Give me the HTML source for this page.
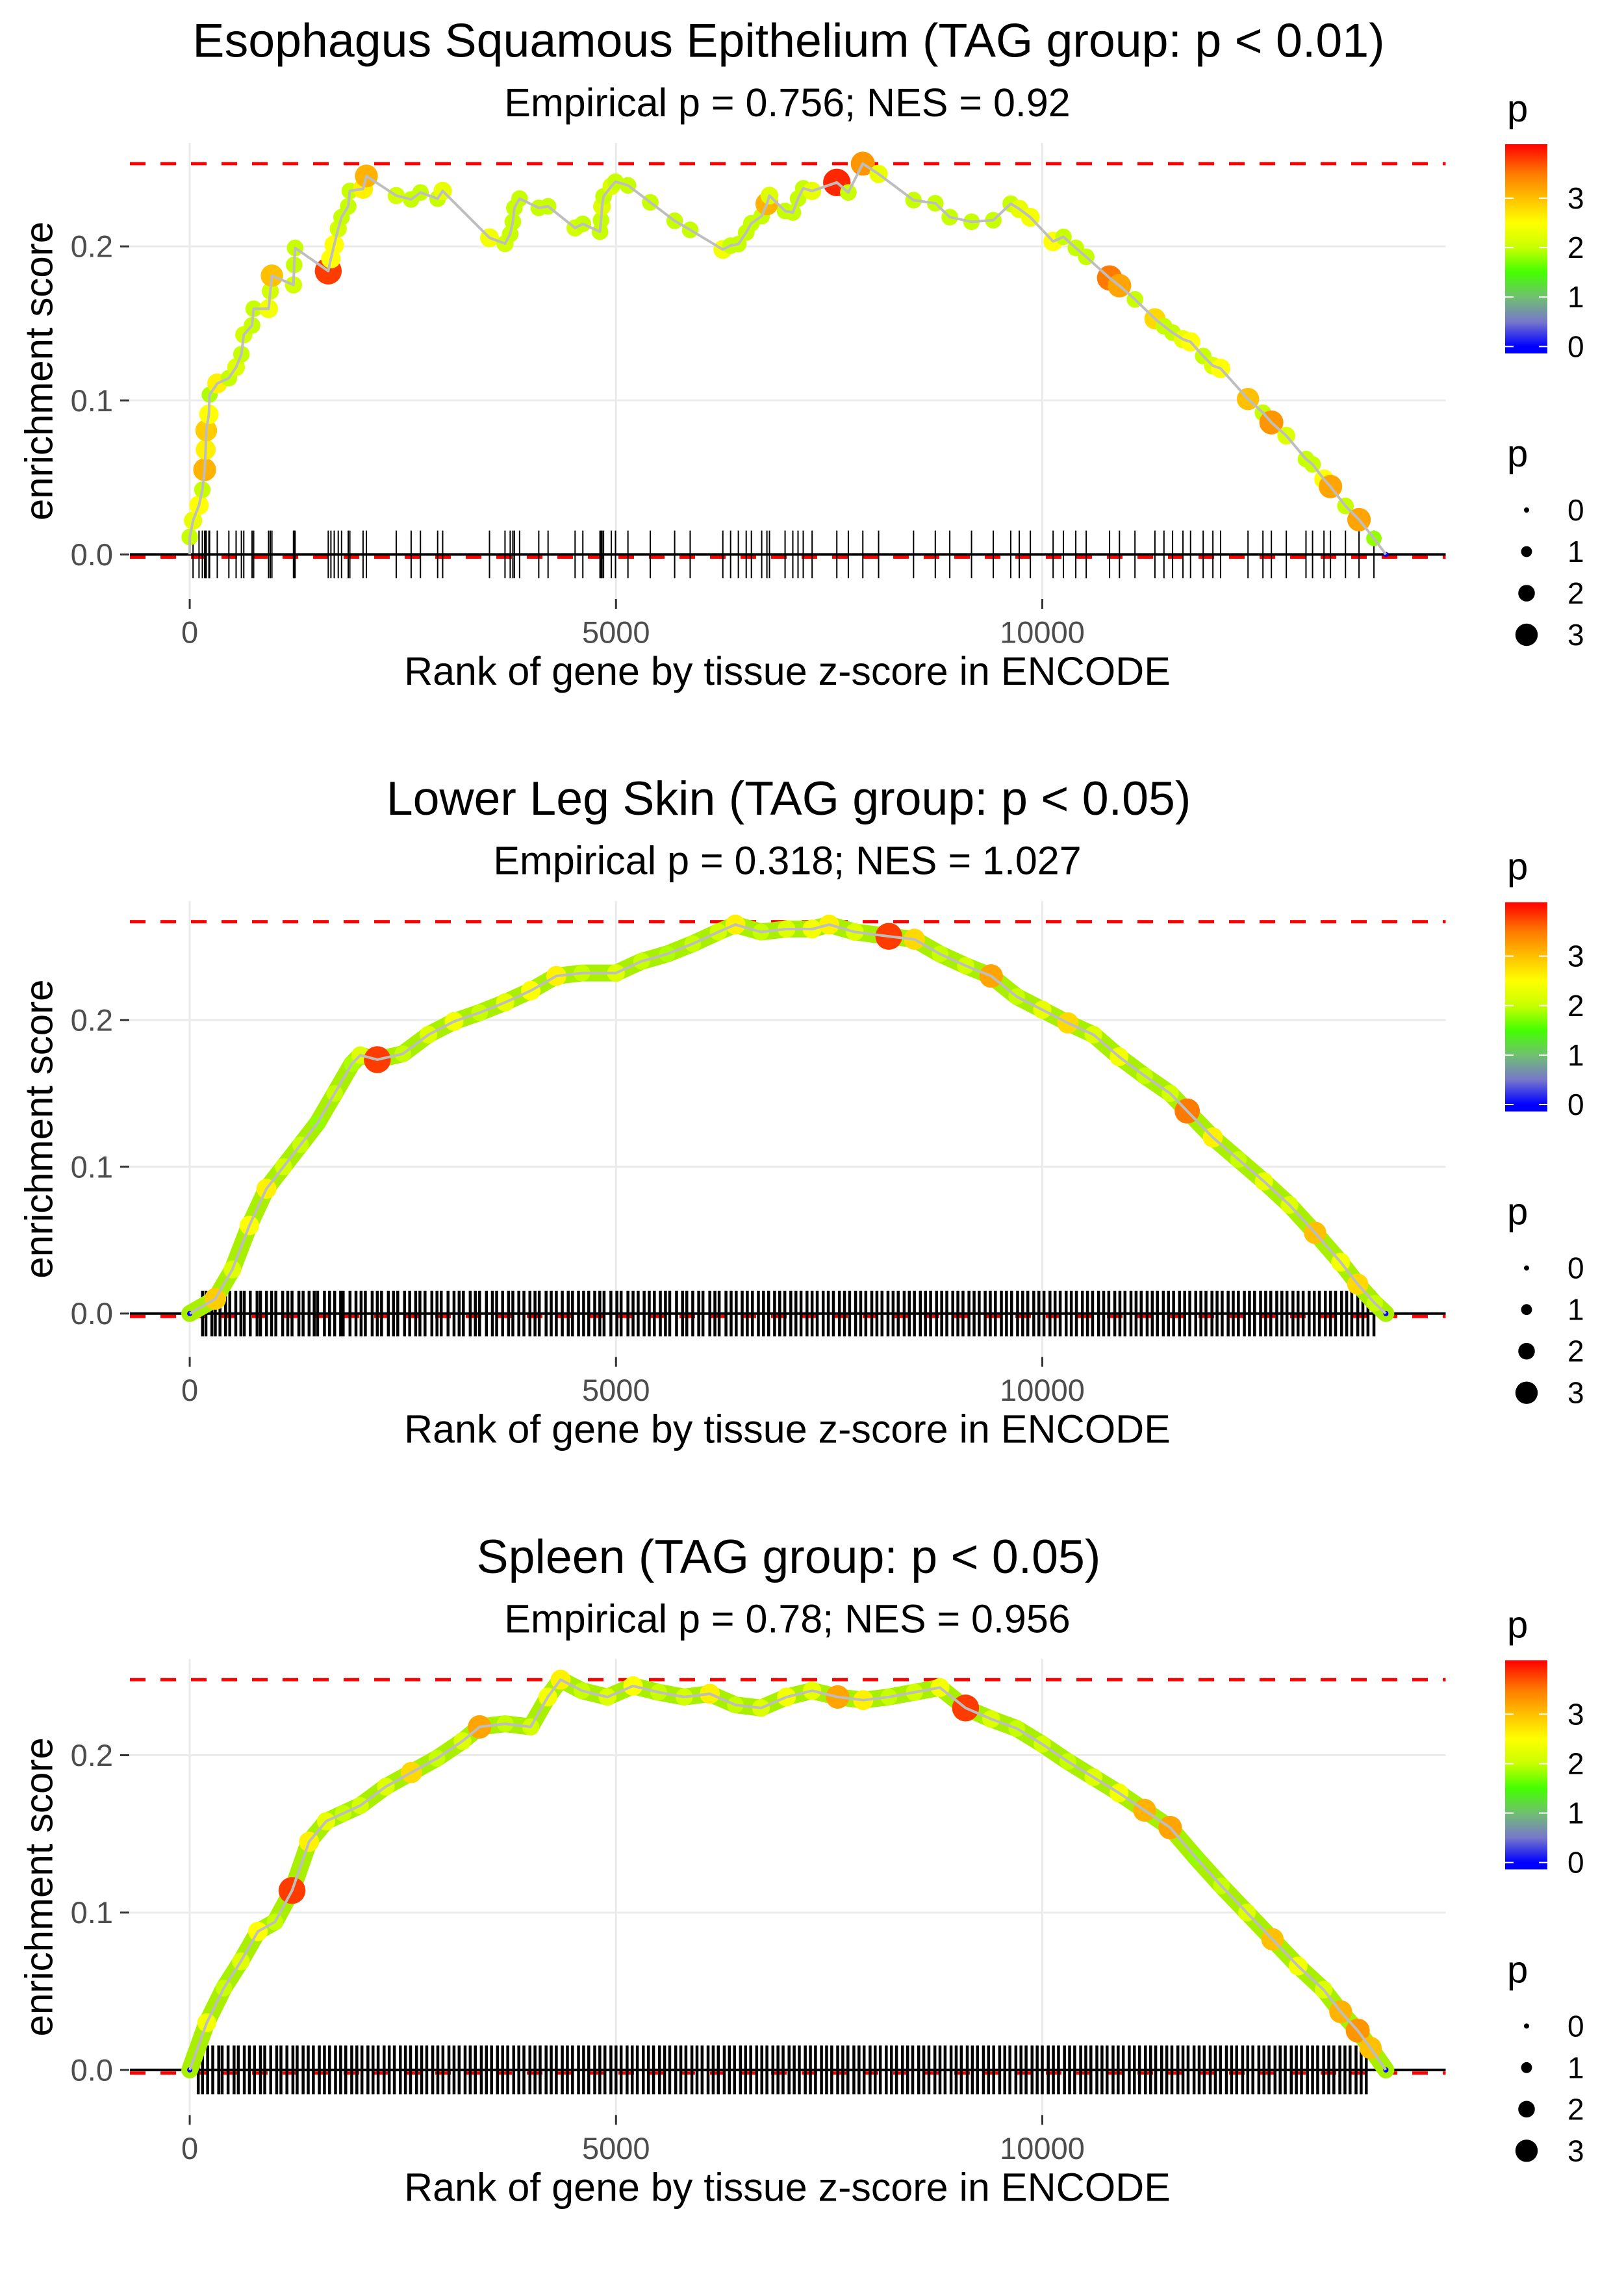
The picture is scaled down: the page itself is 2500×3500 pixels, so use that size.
<!DOCTYPE html>
<html><head><meta charset="utf-8">
<style>
html,body{margin:0;padding:0;background:#fff;}
svg{display:block;font-family:"Liberation Sans",Arial,sans-serif;}
</style></head>
<body>
<svg id="chart" width="2500" height="3500" viewBox="0 0 2500 3500" xmlns="http://www.w3.org/2000/svg">
<defs>
<linearGradient id="pgrad" x1="0" y1="1" x2="0" y2="0"></linearGradient>
</defs>
</svg>
<script>
// ---------- data ----------
const panelTitles = ["Esophagus Squamous Epithelium (TAG group: p < 0.01)", "Lower Leg Skin (TAG group: p < 0.05)", "Spleen (TAG group: p < 0.05)"];
const panelSubtitles = ["Empirical p = 0.756; NES = 0.92", "Empirical p = 0.318; NES = 1.027", "Empirical p = 0.78; NES = 0.956"];
const xTicks = [0, 5000, 10000];
const xTickLabels = ["0", "5000", "10000"];
const yTicks = [0, 0.1, 0.2];
const yTickLabels = ["0.0", "0.1", "0.2"];
const xExtent = [0, 14030];
const rugHalf = 0.0155;
const legendColorTicks = [0, 1, 2, 3];
const legendSizeValues = [0, 1, 2, 3];
const colorStops = [0, 0.5, 1, 1.5, 2, 2.5, 3, 3.5, 4.09];
const colorStopColors = ["#0000ff", "#7777cc", "#70c070", "#44ff00", "#c8ff00", "#ffff00", "#ffc000", "#ff7a00", "#ff0000"];
const colorRange = [-0.14, 4.09];

const p1Ranks = [0,39,109,148,175,187,194,225,233,323,459,544,606,634,731,750,925,945,964,1217,1225,1236,1625,1656,1695,1742,1781,1859,1878,2033,2072,2422,2597,2706,2908,2967,3516,3698,3759,3790,3808,3869,4094,4203,4520,4611,4812,4824,4836,4854,4945,4994,5140,5402,5688,5870,6253,6344,6435,6527,6588,6709,6770,6800,6983,7074,7135,7196,7300,7590,7725,7895,8080,8490,8745,8915,9170,9425,9630,9730,9860,10127,10248,10393,10515,10789,10905,11087,11321,11427,11528,11650,11739,11887,12001,12091,12413,12588,12687,12862,13093,13170,13304,13380,13556,13715,13890,14030];
const p1ES = [.0113,.022,.032,.042,.055,.068,.0805,.091,.1037,.111,.1145,.1216,.130,.1426,.1487,.1595,.1595,.171,.181,.175,.188,.199,.184,.192,.201,.2115,.219,.226,.236,.2374,.2457,.233,.2305,.235,.231,.236,.2056,.2018,.208,.216,.225,.231,.225,.226,.212,.2146,.2095,.217,.226,.2325,.239,.242,.2396,.2286,.2166,.2107,.198,.2005,.2015,.209,.215,.2197,.2276,.233,.223,.222,.231,.2377,.236,.2415,.235,.2537,.247,.230,.228,.219,.216,.217,.2277,.2243,.2189,.2032,.2062,.1990,.1932,.1795,.1745,.1656,.1530,.1482,.1440,.1397,.1380,.1288,.1225,.1208,.1009,.0920,.0857,.0771,.0619,.0585,.0488,.0441,.0315,.0226,.0104,0];
const p1P = [2.0,2.3,2.5,2.0,3.1,2.6,2.9,2.5,1.9,2.6,2.0,2.2,2.0,2.1,2.0,2.0,2.4,2.1,3.0,2.1,2.0,2.0,3.8,2.5,2.5,2.1,2.0,2.0,2.0,2.6,3.1,2.1,2.0,2.0,2.0,2.3,2.4,2.1,2.0,2.0,2.0,2.0,2.0,2.0,2.1,2.0,2.0,2.0,2.2,2.0,2.2,2.0,2.0,2.0,2.0,2.0,2.4,2.0,2.0,2.0,2.0,2.0,3.1,2.2,2.0,2.0,2.0,2.0,2.3,3.9,2.0,3.3,2.3,2.0,2.0,2.0,2.0,2.0,2.0,2.3,2.4,2.5,2.0,2.0,2.0,3.5,3.2,2.0,2.8,2.0,2.0,2.3,2.5,2.0,2.2,2.5,3.0,2.0,3.3,2.2,2.0,2.0,2.5,3.2,2.0,3.2,1.8,0];
const p1Rug = p1Ranks.slice(1, -1);
const p1MaxES = 0.2537;
const p1MinES = -0.0018;

const p2Ranks = [0,300,500,700,900,1100,1300,1500,1700,1900,2000,2200,2500,2800,3100,3400,3700,4000,4300,4600,5000,5300,5600,5900,6200,6400,6700,7000,7300,7500,7800,8200,8500,8800,9100,9400,9700,10000,10300,10600,10900,11200,11500,11700,12000,12300,12600,12900,13200,13500,13700,13900,14030];
const p2ES = [0,.01,.03,.06,.085,.10,.115,.13,.15,.17,.176,.173,.177,.19,.199,.205,.212,.22,.23,.232,.232,.24,.245,.252,.26,.265,.26,.262,.262,.265,.26,.257,.255,.245,.237,.23,.216,.207,.198,.19,.175,.162,.15,.138,.12,.105,.09,.074,.055,.035,.02,.007,0];
const p2P = [0,2.9,2.2,2.5,2.6,2.1,2.0,1.8,2.0,1.9,2.2,3.8,2.0,2.2,2.4,2.0,2.3,2.5,2.6,2.0,2.2,2.0,1.9,2.0,2.1,2.6,2.0,2.2,2.4,2.6,2.2,3.8,2.8,2.0,2.1,3.2,2.0,2.3,2.8,2.2,2.4,2.0,2.1,3.5,2.6,2.0,2.3,2.2,3.0,2.4,2.8,2.0,0];
const p2Rug = [150,190,260,300,355,420,470,540,600,640,710,790,830,900,960,1010,1090,1150,1200,1280,1330,1400,1460,1500,1580,1640,1700,1770,1800,1880,1950,2010,2060,2140,2200,2250,2330,2390,2440,2520,2580,2650,2700,2760,2840,2900,2950,3030,3100,3160,3210,3290,3350,3400,3480,3550,3600,3670,3740,3790,3860,3920,3990,4050,4100,4180,4240,4300,4370,4440,4490,4560,4620,4680,4750,4810,4860,4940,5010,5060,5140,5200,5260,5330,5390,5450,5520,5580,5630,5710,5780,5830,5900,5970,6020,6100,6160,6210,6290,6350,6410,6480,6540,6600,6670,6730,6790,6860,6920,6980,7050,7110,7170,7240,7300,7360,7430,7490,7550,7620,7680,7740,7810,7870,7930,8000,8060,8120,8190,8250,8310,8380,8440,8500,8570,8630,8690,8760,8820,8880,8950,9010,9070,9140,9200,9260,9330,9390,9450,9520,9580,9640,9710,9770,9830,9900,9960,10020,10090,10150,10210,10280,10340,10400,10470,10530,10590,10660,10720,10780,10850,10910,10970,11040,11100,11160,11230,11290,11350,11420,11480,11540,11610,11670,11730,11800,11860,11920,11990,12050,12110,12180,12240,12300,12370,12430,12490,12560,12620,12680,12750,12810,12870,12940,13000,13060,13130,13190,13250,13320,13380,13440,13510,13570,13630,13700,13760,13820,13890];
const p2MaxES = 0.267;
const p2MinES = -0.002;

const p3Ranks = [0,200,400,600,800,1000,1200,1400,1600,1800,2000,2300,2600,2900,3200,3400,3700,4000,4200,4350,4600,4900,5200,5500,5800,6100,6400,6700,7000,7300,7600,7900,8200,8500,8800,9100,9400,9700,10000,10300,10600,10900,11200,11500,11800,12100,12400,12700,13000,13300,13500,13700,13850,14030];
const p3ES = [0,.03,.052,.069,.088,.094,.114,.145,.158,.163,.168,.18,.189,.198,.209,.218,.22,.218,.237,.248,.241,.237,.244,.24,.237,.239,.232,.23,.237,.241,.237,.235,.237,.24,.243,.23,.223,.217,.207,.196,.186,.176,.165,.154,.135,.117,.10,.083,.066,.051,.037,.025,.014,0];
const p3P = [0,2.4,2.0,2.2,2.5,2.0,3.8,2.6,2.3,2.0,2.1,2.2,2.8,2.0,2.2,3.2,2.0,2.1,2.4,2.6,2.0,2.2,2.5,2.0,2.1,2.6,2.0,2.2,2.4,2.3,3.2,2.6,2.0,2.1,2.4,3.8,2.2,2.0,2.1,2.0,2.2,2.4,3.1,3.2,1.8,2.0,2.2,3.0,2.4,2.2,3.1,3.3,3.0,0];
const p3Rug = [100,150,210,270,340,380,450,520,570,640,700,760,830,880,950,1020,1070,1140,1210,1260,1330,1390,1450,1520,1580,1640,1710,1770,1830,1900,1960,2020,2090,2150,2210,2280,2340,2400,2470,2530,2590,2660,2720,2780,2850,2910,2970,3040,3100,3160,3230,3290,3350,3420,3480,3540,3610,3670,3730,3800,3860,3920,3990,4050,4110,4180,4240,4300,4370,4430,4490,4560,4620,4680,4750,4810,4870,4940,5000,5060,5130,5190,5250,5320,5380,5440,5510,5570,5630,5700,5760,5820,5890,5950,6010,6080,6140,6200,6270,6330,6390,6460,6520,6580,6650,6710,6770,6840,6900,6960,7030,7090,7150,7220,7280,7340,7410,7470,7530,7600,7660,7720,7790,7850,7910,7980,8040,8100,8170,8230,8290,8360,8420,8480,8550,8610,8670,8740,8800,8860,8930,8990,9050,9120,9180,9240,9310,9370,9430,9500,9560,9620,9690,9750,9810,9880,9940,10000,10070,10130,10190,10260,10320,10380,10450,10510,10570,10640,10700,10760,10830,10890,10950,11020,11080,11140,11210,11270,11330,11400,11460,11520,11590,11650,11710,11780,11840,11900,11970,12030,12090,12160,12220,12280,12350,12410,12470,12540,12600,12660,12730,12790,12850,12920,12980,13040,13110,13170,13230,13300,13360,13420,13490,13550,13610,13680,13740,13800];
const p3MaxES = 0.248;
const p3MinES = -0.002;

// ---------- rendering ----------
const NS = "http://www.w3.org/2000/svg";
const svg = document.getElementById("chart");
function mk(tag, attrs, parent) {
  const e = document.createElementNS(NS, tag);
  for (const k in attrs) e.setAttribute(k, attrs[k]);
  (parent || svg).appendChild(e);
  return e;
}
function hex2rgb(h){return [parseInt(h.substr(1,2),16),parseInt(h.substr(3,2),16),parseInt(h.substr(5,2),16)];}
function pColor(v){
  if (v <= colorStops[0]) return colorStopColors[0];
  for (let i=1;i<colorStops.length;i++){
    if (v <= colorStops[i]) {
      const t=(v-colorStops[i-1])/(colorStops[i]-colorStops[i-1]);
      const a=hex2rgb(colorStopColors[i-1]), b=hex2rgb(colorStopColors[i]);
      return "rgb("+a.map((c,j)=>Math.round(c+(b[j]-c)*t)).join(",")+")";
    }
  }
  return colorStopColors[colorStopColors.length-1];
}
function pRadius(v){ return 4 + 4.4*Math.max(0,v); }

const grad = document.getElementById("pgrad");
for (let i=0;i<colorStops.length;i++){
  mk("stop",{offset:((colorStops[i]-colorRange[0])/(colorRange[1]-colorRange[0])).toFixed(4),"stop-color":colorStopColors[i]},grad);
}

const panels = [
  {ranks:p1Ranks, es:p1ES, p:p1P, rug:p1Rug, maxES:p1MaxES, minES:p1MinES, dense:false},
  {ranks:p2Ranks, es:p2ES, p:p2P, rug:p2Rug, maxES:p2MaxES, minES:p2MinES, dense:true},
  {ranks:p3Ranks, es:p3ES, p:p3P, rug:p3Rug, maxES:p3MaxES, minES:p3MinES, dense:true}
];
const PL=200, PR=2225.5, PT=220, PB=922, PH=3500/3;

panels.forEach((pd, k) => {
  const off = k*PH;
  const g = mk("g",{});
  
  
  const xpad = (xExtent[1]-xExtent[0])*0.05;
  const x0 = xExtent[0]-xpad, x1 = xExtent[1]+xpad;
  const lo0 = Math.min(pd.minES, -rugHalf), hi0 = pd.maxES;
  const ypad = (hi0-lo0)*0.05;
  const ylo = lo0-ypad, yhi = hi0+ypad;
  const X = r => PL + (r-x0)/(x1-x0)*(PR-PL);
  const Y = v => off + PB - (v-ylo)/(yhi-ylo)*(PB-PT);

  const t = mk("text",{x:1214,y:off+62,"font-size":73.5,"text-anchor":"middle","dominant-baseline":"central",fill:"#000"},g);
  t.textContent = panelTitles[k];
  
  
  const st = mk("text",{x:1212,y:off+158,"font-size":61,"text-anchor":"middle","dominant-baseline":"central",fill:"#000"},g);
  st.textContent = panelSubtitles[k];
  
  

  yTicks.forEach((v,i) => {
    const gl = mk("line",{x1:PL,x2:PR,y1:Y(v),y2:Y(v),stroke:"#ebebeb","stroke-width":3},g);
    
    
    const tm = mk("line",{x1:185,x2:199,y1:Y(v),y2:Y(v),stroke:"#333","stroke-width":3},g);
    
    
    const tl = mk("text",{x:174,y:Y(v),"font-size":47,"text-anchor":"end","dominant-baseline":"central",fill:"#4d4d4d"},g);
    tl.textContent = yTickLabels[i];
    
    
  });
  xTicks.forEach((v,i) => {
    const gl = mk("line",{x1:X(v),x2:X(v),y1:off+PT,y2:off+PB,stroke:"#ebebeb","stroke-width":3},g);
    
    
    const tm = mk("line",{x1:X(v),x2:X(v),y1:off+PB,y2:off+PB+15,stroke:"#333","stroke-width":3},g);
    
    
    const tl = mk("text",{x:X(v),y:off+973,"font-size":47,"text-anchor":"middle","dominant-baseline":"central",fill:"#4d4d4d"},g);
    tl.textContent = xTickLabels[i];
    
    
  });

  const xt = mk("text",{x:1212,y:off+1033,"font-size":61,"text-anchor":"middle","dominant-baseline":"central",fill:"#000"},g);
  xt.textContent = "Rank of gene by tissue z-score in ENCODE";
  
  
  const yc = (off+PT+off+PB)/2;
  const yt = mk("text",{x:60,y:yc,"font-size":60,"text-anchor":"middle","dominant-baseline":"central",fill:"#000",transform:"rotate(-90 60 "+yc+")"},g);
  yt.textContent = "enrichment score";
  
  

  const rl1 = mk("line",{x1:PL,x2:PR,y1:Y(pd.maxES),y2:Y(pd.maxES),stroke:"#ff0000","stroke-width":5,"stroke-dasharray":"24 23"},g);
  
  
  const rl2 = mk("line",{x1:PL,x2:PR,y1:Y(pd.minES),y2:Y(pd.minES),stroke:"#ff0000","stroke-width":5,"stroke-dasharray":"24 23"},g);
  
  

  const rugG = mk("g",{},g);
  
  
  pd.rug.forEach(r => {
    const l = mk("line",{x1:X(r),x2:X(r),y1:Y(rugHalf),y2:Y(-rugHalf),stroke:"#000","stroke-width":pd.dense?4.5:2},rugG);
    
    
  });

  const zl = mk("line",{x1:PL,x2:PR,y1:Y(0),y2:Y(0),stroke:"#000","stroke-width":4},g);
  
  

  const n = Math.min(pd.ranks.length, pd.es.length, pd.p.length);
  let pts = [];
  if (!pd.dense) pts.push(X(0).toFixed(1)+","+Y(0).toFixed(1));
  for (let i=0;i<n;i++) pts.push(X(pd.ranks[i]).toFixed(1)+","+Y(pd.es[i]).toFixed(1));
  const ptsStr = pts.join(" ");

  if (pd.dense) {
    const band = mk("polyline",{points:ptsStr,fill:"none",stroke:"#a8f000","stroke-width":26,"stroke-linejoin":"round","stroke-linecap":"round"},g);
    
    
  }
  const dotsG = mk("g",{},g);
  
  
  for (let i=0;i<n;i++){
    const c = mk("circle",{cx:X(pd.ranks[i]),cy:Y(pd.es[i]),r:pRadius(pd.p[i]),fill:pColor(pd.p[i])},dotsG);
    
    
  }
  const line = mk("polyline",{points:ptsStr,fill:"none",stroke:"#bebebe","stroke-width":4,"stroke-linejoin":"round"},g);
  
  

  const lg = mk("g",{},g);
  
  
  const lt = mk("text",{x:2320,y:off+187,"font-size":58,fill:"#000"},lg);
  lt.textContent = "p";
  
  
  const barTop = off+222, barBot = off+544;
  const LY = v => barBot - (v-colorRange[0])/(colorRange[1]-colorRange[0])*(barBot-barTop);
  const bar = mk("rect",{x:2317,y:barTop,width:65,height:barBot-barTop,fill:"url(#pgrad)"},lg);
  
  
  legendColorTicks.forEach(v => {
    const a = mk("line",{x1:2317,x2:2330,y1:LY(v),y2:LY(v),stroke:"#fff","stroke-width":2},lg);
    
    
    const b = mk("line",{x1:2369,x2:2382,y1:LY(v),y2:LY(v),stroke:"#fff","stroke-width":2},lg);
    
    
    const tl = mk("text",{x:2413,y:LY(v),"font-size":46,"dominant-baseline":"central",fill:"#000"},lg);
    tl.textContent = String(v);
    
    
  });
  const sg = mk("g",{},g);
  
  
  const slt = mk("text",{x:2320,y:off+718,"font-size":58,fill:"#000"},sg);
  slt.textContent = "p";
  
  
  legendSizeValues.forEach((v,i) => {
    const cy = off+785+i*64;
    const c = mk("circle",{cx:2350,cy:cy,r:pRadius(v),fill:"#000"},sg);
    
    
    const tl = mk("text",{x:2413,y:cy,"font-size":46,"dominant-baseline":"central",fill:"#000"},sg);
    tl.textContent = String(v);
    
    
  });
});
</script>
</body></html>
